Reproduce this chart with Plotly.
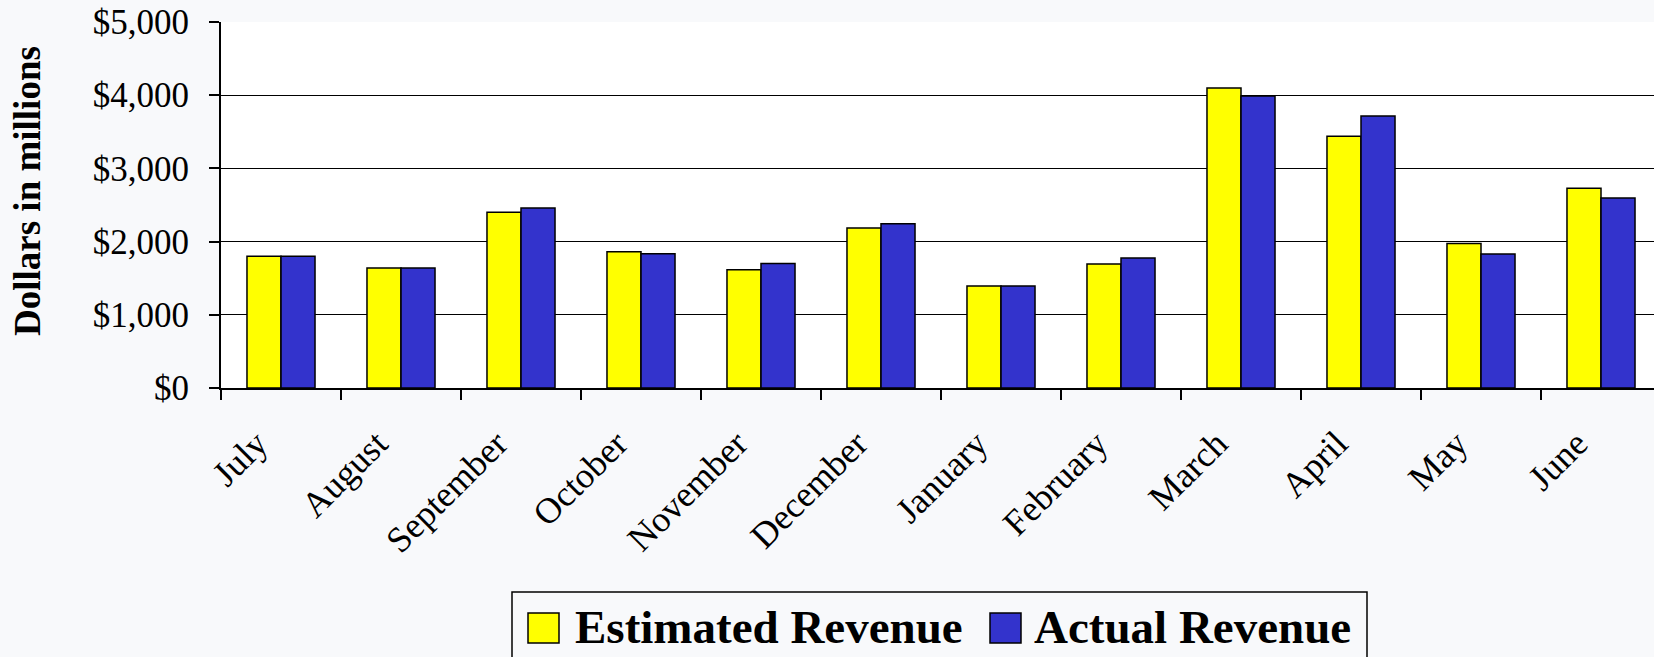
import plotly.graph_objects as go

months = ["July", "August", "September", "October", "November", "December",
          "January", "February", "March", "April", "May", "June"]
estimated = [1800, 1640, 2400, 1860, 1615, 2185, 1395, 1695, 4100, 3440, 1975, 2730]
actual = [1800, 1640, 2460, 1835, 1700, 2245, 1395, 1775, 3990, 3715, 1830, 2595]
y_ticks = [0, 1000, 2000, 3000, 4000, 5000]

W, H = 1654, 657
ML, MR, MT, MB = 221, 0, 22, 269
PW = W - ML - MR
PH = H - MT - MB

def px_x(x):
    return (x - ML) / PW

def px_y(y):
    return (H - MB - y) / PH

serif = "Liberation Serif, Times New Roman, serif"
yellow = "#FFFF00"
blue = "#3333CC"

fig = go.Figure()
fig.add_trace(go.Bar(x=months, y=estimated, name="Estimated Revenue",
                     marker=dict(color=yellow, line=dict(color="black", width=1.5))))
fig.add_trace(go.Bar(x=months, y=actual, name="Actual Revenue",
                     marker=dict(color=blue, line=dict(color="black", width=1.5))))

fig.update_layout(
    width=W, height=H,
    margin=dict(l=ML, r=MR, t=MT, b=MB, autoexpand=False),
    paper_bgcolor="#F8F9FB",
    plot_bgcolor="white",
    barmode="group", bargap=0.433, bargroupgap=0,
    showlegend=False,
    font=dict(family=serif, color="black"),
    xaxis=dict(
        range=[-0.5, 11.5 - 7 / 120],
        tickangle=-45,
        tickson="boundaries",
        ticks="outside", ticklen=10, tickwidth=1.5, tickcolor="black",
        showline=True, linecolor="black", linewidth=2,
        showgrid=False,
        tickfont=dict(family=serif, size=36, color="black"),
        ticklabelshift=-24,
        ticklabelstandoff=18,
        automargin=False,
    ),
    yaxis=dict(
        range=[0, 5000],
        tickvals=y_ticks,
        tickformat="$,.0f",
        ticks="outside", ticklen=10, tickwidth=1.5, tickcolor="black",
        showline=True, linecolor="black", linewidth=2,
        showgrid=True, gridcolor="black", gridwidth=1.2,
        zeroline=False,
        tickfont=dict(family=serif, size=35, color="black"),
        ticklabelstandoff=13,
        automargin=False,
    ),
)

# y-axis title
fig.add_annotation(text="<b>Dollars in millions</b>", xref="paper", yref="paper",
                   x=px_x(28), y=px_y(191), textangle=-90, showarrow=False,
                   xanchor="center", yanchor="middle",
                   font=dict(family=serif, size=37, color="black"))

# legend box and entries
fig.add_shape(type="rect", xref="paper", yref="paper",
              x0=px_x(512), x1=px_x(1367), y0=px_y(592), y1=px_y(720),
              line=dict(color="black", width=1.5), fillcolor="rgba(0,0,0,0)")
legend_items = [("Estimated Revenue", yellow, 528, 573), ("Actual Revenue", blue, 990, 1032)]
for name, col, sx, tx in legend_items:
    fig.add_shape(type="rect", xref="paper", yref="paper",
                  x0=px_x(sx), x1=px_x(sx + 31), y0=px_y(613), y1=px_y(643),
                  line=dict(color="black", width=1.5), fillcolor=col)
    fig.add_annotation(text="<b>" + name + "</b>", xref="paper", yref="paper",
                       x=px_x(tx), y=px_y(627), showarrow=False,
                       xanchor="left", yanchor="middle",
                       font=dict(family=serif, size=47, color="black"))

fig.write_html("out.html",
               config={"displayModeBar": False},
               post_script="document.body.style.margin='0';document.body.style.background='#F8F9FB';")
